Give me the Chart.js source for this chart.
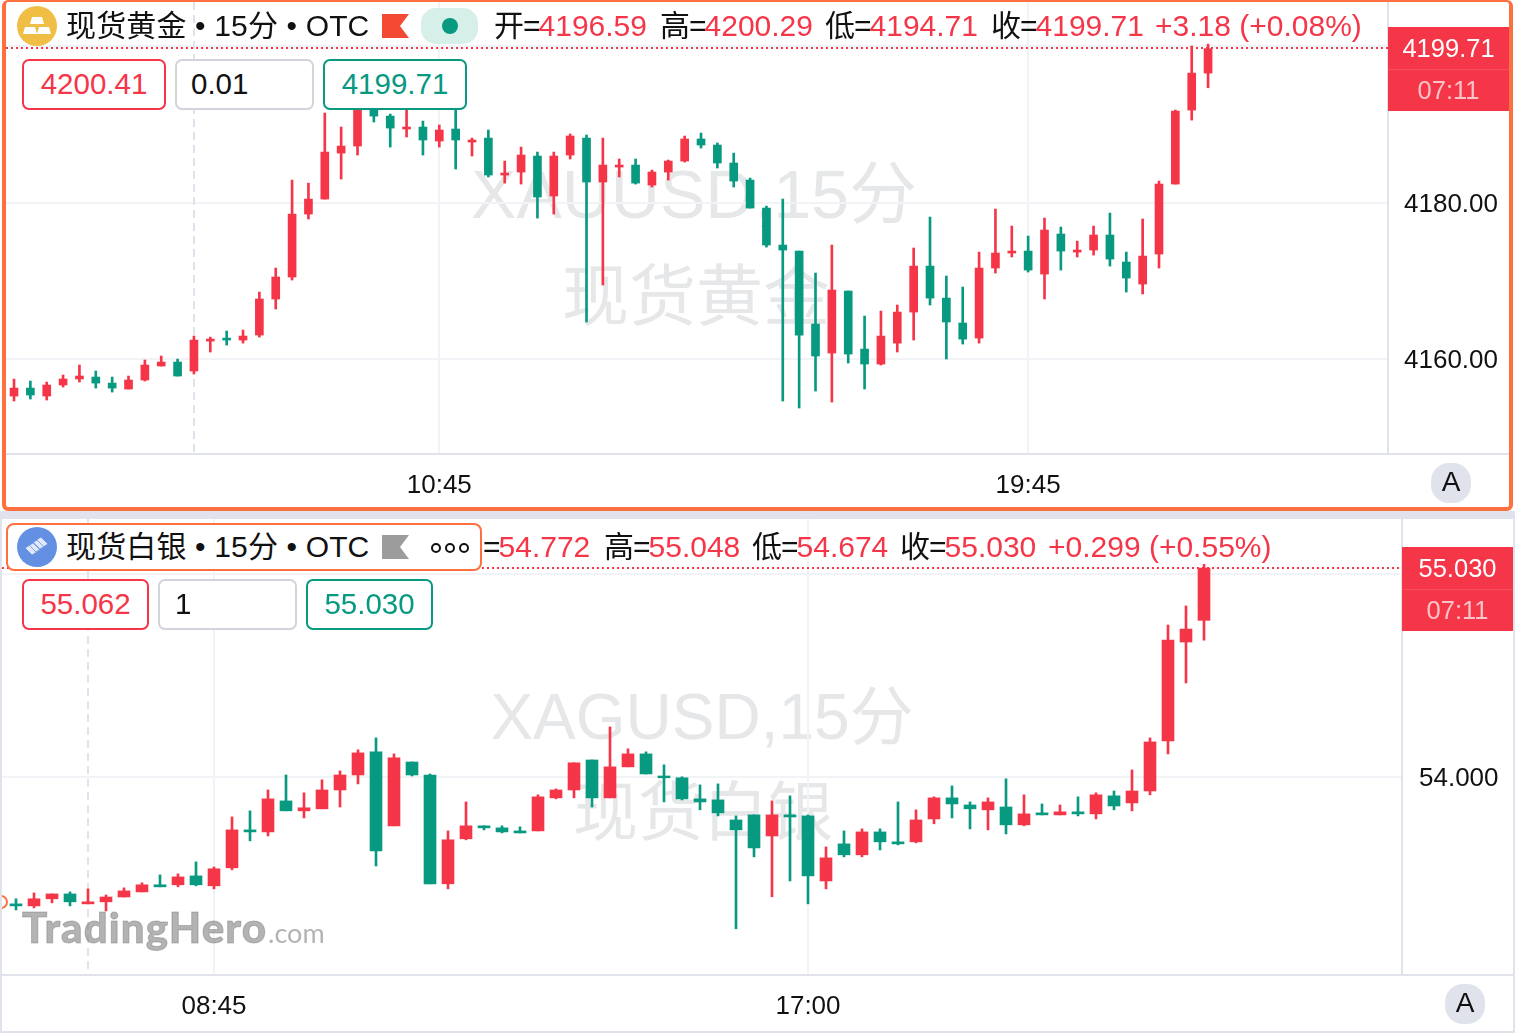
<!DOCTYPE html>
<html>
<head>
<meta charset="utf-8">
<script src="https://cdn.jsdelivr.net/npm/chart.js@4/dist/chart.umd.js"></script>
<style>
html,body{margin:0;padding:0;background:#fff;overflow:hidden}
body{width:1517px;height:1033px;position:relative;font-family:"Liberation Sans","Noto Sans CJK SC",sans-serif;color:#111}
canvas{position:absolute;left:0}
.t{position:absolute;white-space:nowrap;line-height:1;font-size:30px}
.v{letter-spacing:-1px}
.v span{letter-spacing:0;margin-left:-1px}
.ttl{letter-spacing:.15px}
.r{color:#f43648}
.wm{position:absolute;white-space:nowrap;line-height:1;color:#e6e7e9;font-size:68px;transform:translate(-50%,-50%)}
.box{position:absolute;box-sizing:border-box;height:51px;border:2px solid;border-radius:7px;background:#fff;font-size:29.5px;line-height:46px;text-align:center}
.btnA{position:absolute;width:40px;height:40px;border-radius:18px;background:#e0e3eb;text-align:center;line-height:38px;font-size:28px}
</style>
</head>
<body>
<div style="position:absolute;left:0;top:511px;width:1515px;height:8px;background:#e0e3eb"></div>
<div style="position:absolute;left:0;top:519px;width:2px;height:514px;background:#e0e3eb"></div>
<div style="position:absolute;left:1513px;top:519px;width:2px;height:514px;background:#e0e3eb"></div>
<div style="position:absolute;left:0;top:1031px;width:1515px;height:2px;background:#e0e3eb"></div>

<div class="wm" style="left:694px;top:194px">XAUUSD,15分</div>
<div class="wm" style="left:696px;top:296px;font-size:67px">现货黄金</div>
<div class="wm" style="left:702px;top:717px;font-size:64px">XAGUSD,15分</div>
<div class="wm" style="left:703px;top:812px;font-size:65px">现货白银</div>

<canvas id="gold" width="1513" height="511" style="top:0"></canvas>
<canvas id="silver" width="1513" height="514" style="top:519px"></canvas>

<!-- top pane frame and legend -->
<div style="position:absolute;left:2px;top:0;width:1511px;height:511px;box-sizing:border-box;border:4px solid #ff7040;border-top-width:2px;border-radius:6px"></div>
<svg style="position:absolute;left:17px;top:6px" width="40" height="40">
  <circle cx="20" cy="20" r="20" fill="#f0be45"/>
  <path d="M15 11h10l2 7H13zM8 21h10l2 7H6zM22 21h10l2 7H20z" fill="#fff"/>
</svg>
<div class="t ttl" style="left:66px;top:11px">现货黄金 • 15分 • OTC</div>
<svg style="position:absolute;left:382px;top:14px" width="28" height="24"><path d="M0 0H27L18 12L27 24H0Z" fill="#f44a33"/></svg>
<div style="position:absolute;left:421px;top:8px;width:57px;height:36px;border-radius:15px;background:#d7efe9"></div>
<div style="position:absolute;left:442px;top:18px;width:16px;height:16px;border-radius:50%;background:#089981"></div>
<div class="t v" style="left:494px;top:11px">开=<span class="r">4196.59</span></div>
<div class="t v" style="left:660px;top:11px">高=<span class="r">4200.29</span></div>
<div class="t v" style="left:825px;top:11px">低=<span class="r">4194.71</span></div>
<div class="t v" style="left:991px;top:11px">收=<span class="r">4199.71</span></div>
<div class="t r" style="left:1155px;top:11px">+3.18 (+0.08%)</div>

<div class="box r" style="left:22px;top:59px;width:144px;border-color:#f43648">4200.41</div>
<div class="box" style="left:175px;top:59px;width:139px;border-color:#d1d4dc;text-align:left;padding-left:14px">0.01</div>
<div class="box" style="left:323px;top:59px;width:144px;border-color:#089981;color:#089981">4199.71</div>
<div class="btnA" style="left:1431px;top:463px">A</div>

<!-- bottom pane legend -->
<div style="position:absolute;left:6px;top:523px;width:476px;height:48px;box-sizing:border-box;border:2px solid #ff7040;border-radius:8px;background:#fff"></div>
<svg style="position:absolute;left:17px;top:527px" width="40" height="40">
  <circle cx="20" cy="20" r="20" fill="#6490e4"/>
  <path d="M8 21l8-5 7 7-8 5zM12 18l8-5 7 7-8 5zM16 15l8-5 7 7-8 5z" fill="#fff" fill-opacity=".8" stroke="#6490e4" stroke-width=".8"/>
</svg>
<div class="t ttl" style="left:66px;top:532px">现货白银 • 15分 • OTC</div>
<svg style="position:absolute;left:382px;top:535px" width="28" height="24"><path d="M0 0H27L18 12L27 24H0Z" fill="#9c9c9c"/></svg>
<svg style="position:absolute;left:430px;top:541px" width="42" height="14">
  <circle cx="6" cy="7" r="4" fill="none" stroke="#111" stroke-width="2"/>
  <circle cx="20" cy="7" r="4" fill="none" stroke="#111" stroke-width="2"/>
  <circle cx="34" cy="7" r="4" fill="none" stroke="#111" stroke-width="2"/>
</svg>
<div class="t v" style="left:483px;top:532px">=<span class="r">54.772</span></div>
<div class="t v" style="left:604px;top:532px">高=<span class="r">55.048</span></div>
<div class="t v" style="left:752px;top:532px">低=<span class="r">54.674</span></div>
<div class="t v" style="left:900px;top:532px">收=<span class="r">55.030</span></div>
<div class="t r" style="left:1048px;top:532px">+0.299 (+0.55%)</div>

<div class="box r" style="left:22px;top:579px;width:127px;border-color:#f43648">55.062</div>
<div class="box" style="left:158px;top:579px;width:139px;border-color:#d1d4dc;text-align:left;padding-left:15px">1</div>
<div class="box" style="left:306px;top:579px;width:127px;border-color:#089981;color:#089981">55.030</div>
<div class="btnA" style="left:1445px;top:984px">A</div>

<svg style="position:absolute;left:2px;top:894px" width="8" height="16"><circle cx="-1" cy="8" r="6" fill="none" stroke="#ff7040" stroke-width="2"/></svg>
<div style="position:absolute;left:22px;top:906px;white-space:nowrap;line-height:1;font-family:Lato,'Liberation Sans',sans-serif;font-weight:900;font-size:42px;letter-spacing:1.1px;-webkit-text-stroke:1px rgba(110,110,110,.4);color:rgba(110,110,110,.52)">TradingHero<span style="font-size:27px;font-weight:400;margin-left:1px;letter-spacing:0;-webkit-text-stroke:0">.com</span></div>

<script>
// 15 minute candles
const goldOpen = [4155.29,4156.31,4155.29,4156.70,4157.47,4157.72,4156.95,4156.19,4157.34,4159.13,4159.64,4158.49,4162.32,4162.70,4162.45,4163.09,4167.70,4170.51,4178.56,4180.48,4186.36,4187.26,4192.12,4191.09,4189.44,4189.69,4187.90,4189.44,4187.77,4188.28,4183.55,4183.93,4185.98,4180.87,4186.11,4188.28,4182.66,4184.57,4184.83,4182.27,4183.93,4185.34,4188.16,4187.39,4185.09,4182.91,4179.33,4174.60,4173.83,4164.50,4160.79,4168.72,4161.30,4159.38,4162.06,4166.03,4171.91,4167.82,4164.63,4162.70,4171.66,4173.58,4173.83,4170.89,4176.01,4173.70,4173.96,4175.88,4172.43,4169.61,4173.45,4182.40,4191.86,4196.59];
const goldHigh = [4157.46,4157.21,4157.08,4157.98,4159.26,4158.49,4157.72,4157.85,4159.90,4160.41,4160.02,4162.96,4162.83,4163.60,4163.73,4168.59,4171.66,4182.91,4182.52,4191.48,4189.69,4192.63,4192.63,4191.35,4192.12,4190.45,4189.95,4191.99,4188.28,4189.31,4185.34,4187.13,4186.49,4186.49,4188.80,4188.67,4188.28,4185.60,4185.60,4184.19,4185.47,4188.54,4188.92,4187.65,4186.36,4183.17,4179.58,4180.48,4173.83,4171.02,4174.60,4168.72,4165.52,4166.16,4166.93,4174.22,4178.18,4170.64,4169.23,4173.70,4179.20,4177.03,4175.75,4178.05,4176.90,4175.11,4177.03,4178.69,4173.70,4177.93,4182.78,4191.86,4200.05,4200.29];
const goldLow = [4154.65,4154.91,4154.78,4156.44,4157.08,4156.31,4155.80,4156.19,4157.21,4159.13,4157.85,4158.11,4160.92,4161.81,4162.06,4162.83,4166.42,4170.13,4177.93,4180.48,4183.04,4186.11,4190.33,4187.13,4188.41,4186.11,4187.13,4184.32,4185.98,4183.30,4182.52,4182.40,4178.05,4178.56,4185.60,4164.76,4169.49,4183.30,4182.40,4182.02,4182.91,4185.21,4187.00,4184.45,4182.02,4179.33,4174.34,4154.65,4153.76,4155.93,4154.52,4159.51,4156.19,4159.26,4160.92,4162.45,4166.93,4160.02,4161.94,4162.06,4171.02,4173.07,4171.15,4167.70,4171.40,4173.07,4173.32,4171.91,4168.59,4168.34,4171.66,4182.40,4190.58,4194.71];
const goldClose = [4156.31,4155.42,4156.70,4157.47,4157.85,4156.95,4156.31,4157.34,4159.26,4159.64,4157.85,4162.45,4162.57,4162.45,4162.96,4167.70,4170.51,4178.56,4180.48,4186.49,4187.26,4192.12,4191.09,4189.56,4189.69,4188.03,4189.31,4188.03,4188.03,4183.55,4183.81,4186.11,4180.74,4185.98,4188.54,4182.66,4184.83,4184.83,4182.52,4183.93,4185.34,4188.16,4187.39,4185.09,4182.78,4179.33,4174.60,4173.96,4163.09,4160.41,4168.85,4160.66,4159.38,4162.96,4166.03,4171.91,4167.82,4164.76,4162.57,4171.66,4173.58,4173.83,4171.40,4176.52,4173.83,4173.96,4175.88,4172.81,4170.38,4173.19,4182.40,4191.73,4196.59,4199.71];
const goldTickIndex = [26,62];
const goldTimes = ['10:45','19:45'];
const goldPrices = [4160,4180,4200];

const silverOpen = [53.373,53.363,53.398,53.422,53.373,53.383,53.407,53.432,53.467,53.467,53.511,53.462,53.551,53.738,53.728,53.881,53.832,53.842,53.935,54.009,54.123,53.758,54.073,54.009,53.472,53.694,53.758,53.748,53.733,53.733,53.896,53.935,54.083,53.896,54.049,54.113,54.004,53.995,53.891,53.886,53.787,53.812,53.708,53.812,53.807,53.486,53.669,53.615,53.728,53.679,53.679,53.792,53.896,53.861,53.837,53.851,53.763,53.822,53.812,53.827,53.817,53.906,53.871,53.930,54.177,54.665,54.772];
const silverHigh = [53.398,53.427,53.422,53.432,53.447,53.417,53.452,53.477,53.516,53.521,53.580,53.555,53.802,53.832,53.935,54.009,53.921,53.985,54.029,54.133,54.192,54.113,54.073,54.014,53.733,53.876,53.758,53.758,53.753,53.911,53.940,54.069,54.083,54.246,54.138,54.123,54.059,54.000,53.960,53.965,53.807,53.812,53.881,53.906,53.812,53.654,53.733,53.743,53.743,53.876,53.837,53.901,53.955,53.876,53.896,53.990,53.911,53.866,53.861,53.901,53.921,53.930,54.034,54.192,54.749,54.843,55.048];
const silverLow = [53.343,53.353,53.378,53.363,53.373,53.338,53.407,53.432,53.457,53.457,53.462,53.447,53.541,53.684,53.708,53.832,53.797,53.842,53.851,53.965,53.560,53.758,54.004,53.472,53.447,53.689,53.738,53.723,53.723,53.733,53.891,53.896,53.851,53.896,54.049,54.014,53.876,53.886,53.837,53.807,53.250,53.605,53.408,53.486,53.373,53.447,53.605,53.605,53.639,53.664,53.674,53.768,53.797,53.743,53.738,53.718,53.758,53.812,53.812,53.807,53.792,53.837,53.832,53.911,54.113,54.463,54.674];
const silverClose = [53.363,53.398,53.422,53.383,53.383,53.407,53.437,53.467,53.457,53.506,53.467,53.546,53.738,53.728,53.891,53.832,53.847,53.935,54.009,54.118,53.634,54.093,54.009,53.472,53.689,53.758,53.748,53.728,53.723,53.901,53.935,54.069,53.896,54.049,54.113,54.014,53.995,53.891,53.876,53.822,53.738,53.649,53.812,53.802,53.511,53.600,53.615,53.728,53.679,53.669,53.787,53.896,53.866,53.842,53.876,53.763,53.817,53.812,53.827,53.817,53.911,53.856,53.930,54.172,54.675,54.729,55.030];
const silverTickIndex = [11,44];
const silverTimes = ['08:45','17:00'];
const silverPrices = [54,55];

const UP = '#f43648', DOWN = '#089981', AXIS = '#e0e3eb', GRID = '#f2f3f7';
Chart.defaults.font.family = '"Liberation Sans","Noto Sans CJK SC",sans-serif';

// dotted last price line, price tag and dashed crosshair
const overlay = {
	id: 'overlay',
	beforeDatasetsDraw(chart, args, o) {
		const ctx = chart.ctx, a = chart.chartArea;
		const x = Math.round(chart.scales.x.getPixelForValue(o.crossIndex));
		ctx.save();
		ctx.strokeStyle = AXIS;
		ctx.lineWidth = 2;
		ctx.setLineDash([8, 5]);
		ctx.beginPath();
		ctx.moveTo(x, a.top);
		ctx.lineTo(x, a.bottom);
		ctx.stroke();
		ctx.restore();
	},
	afterDatasetsDraw(chart, args, o) {
		const ctx = chart.ctx, a = chart.chartArea;
		const y = Math.floor(chart.scales.y.getPixelForValue(o.last));
		ctx.save();
		ctx.fillStyle = AXIS;
		ctx.fillRect(a.right, a.bottom - 1, o.tagWidth, 2);
		ctx.strokeStyle = UP;
		ctx.lineWidth = 2;
		ctx.setLineDash([2, 3]);
		ctx.beginPath();
		ctx.moveTo(a.left, y);
		ctx.lineTo(a.right, y);
		ctx.stroke();
		ctx.setLineDash([]);
		ctx.fillStyle = UP;
		ctx.fillRect(a.right, y - 21, o.tagWidth, 84);
		ctx.fillStyle = 'rgba(255,255,255,.12)';
		ctx.fillRect(a.right, y + 21, o.tagWidth, 1);
		const cx = a.right + o.tagWidth / 2;
		ctx.textAlign = 'center';
		ctx.textBaseline = 'middle';
		ctx.font = '25.5px "Liberation Sans"';
		ctx.fillStyle = '#fff';
		ctx.fillText(o.last.toFixed(o.digits), cx, y + 2);
		ctx.fillStyle = 'rgba(255,255,255,.7)';
		ctx.fillText('07:11', cx, y + 44);
		ctx.restore();
	}
};

function candleChart(id, c) {
	const colors = c.close.map((v, i) => v >= c.open[i] ? UP : DOWN);
	new Chart(document.getElementById(id), {
		type: 'bar',
		data: {
			datasets: [
				{ data: c.low.map((v, i) => ({ x: i, y: [v, c.high[i]] })), backgroundColor: colors, barThickness: 2, grouped: false },
				{ data: c.open.map((v, i) => ({ x: i, y: [v, c.close[i]] })), backgroundColor: colors, barThickness: c.body, grouped: false }
			]
		},
		options: {
			responsive: false,
			animation: false,
			layout: { padding: c.padding },
			plugins: {
				legend: { display: false },
				tooltip: { enabled: false },
				overlay: { crossIndex: c.crossIndex, last: c.close[c.close.length - 1], digits: c.digits, tagWidth: c.yWidth }
			},
			scales: {
				x: {
					type: 'linear',
					offset: false,
					min: c.xMin,
					max: c.xMax,
					grid: { color: GRID, lineWidth: 2, drawTicks: false, offset: false },
					border: { color: AXIS, width: 2 },
					afterBuildTicks(s) { s.ticks = c.tickIndex.map(v => ({ value: v })) },
					afterFit(s) { s.height = c.xHeight; s.paddingLeft = 0; s.paddingRight = 0 },
					ticks: {
						autoSkip: false, maxRotation: 0, padding: 16, color: '#111', font: { size: 26 },
						callback: v => c.times[c.tickIndex.indexOf(v)]
					}
				},
				y: {
					position: 'right',
					min: c.yMin,
					max: c.yMax,
					grid: { color: GRID, lineWidth: 2, drawTicks: false },
					border: { color: AXIS, width: 2 },
					afterBuildTicks(s) { s.ticks = c.prices.map(v => ({ value: v })) },
					afterFit(s) { s.width = c.yWidth; s.paddingTop = 0; s.paddingBottom = 0 },
					ticks: {
						padding: c.yPad, labelOffset: 2, color: '#111', font: { size: 26 },
						callback: v => v.toFixed(c.digits)
					}
				}
			}
		},
		plugins: [overlay]
	});
}

candleChart('gold', {
	open: goldOpen, high: goldHigh, low: goldLow, close: goldClose,
	tickIndex: goldTickIndex, times: goldTimes, prices: goldPrices,
	xMin: -0.49, xMax: 84, yMin: 4147.88, yMax: 4205.68,
	padding: { left: 6, right: 4, top: 2, bottom: 4 },
	xHeight: 53, yWidth: 121, yPad: 16, body: 8, digits: 2, crossIndex: 11
});
candleChart('silver', {
	open: silverOpen, high: silverHigh, low: silverLow, close: silverClose,
	tickIndex: silverTickIndex, times: silverTimes, prices: silverPrices,
	xMin: -0.778, xMax: 77, yMin: 53.022, yMax: 55.272,
	padding: { left: 2, right: 0, top: 0, bottom: 2 },
	xHeight: 56, yWidth: 111, yPad: 17, body: 12, digits: 3, crossIndex: 4
});
</script>
</body>
</html>
